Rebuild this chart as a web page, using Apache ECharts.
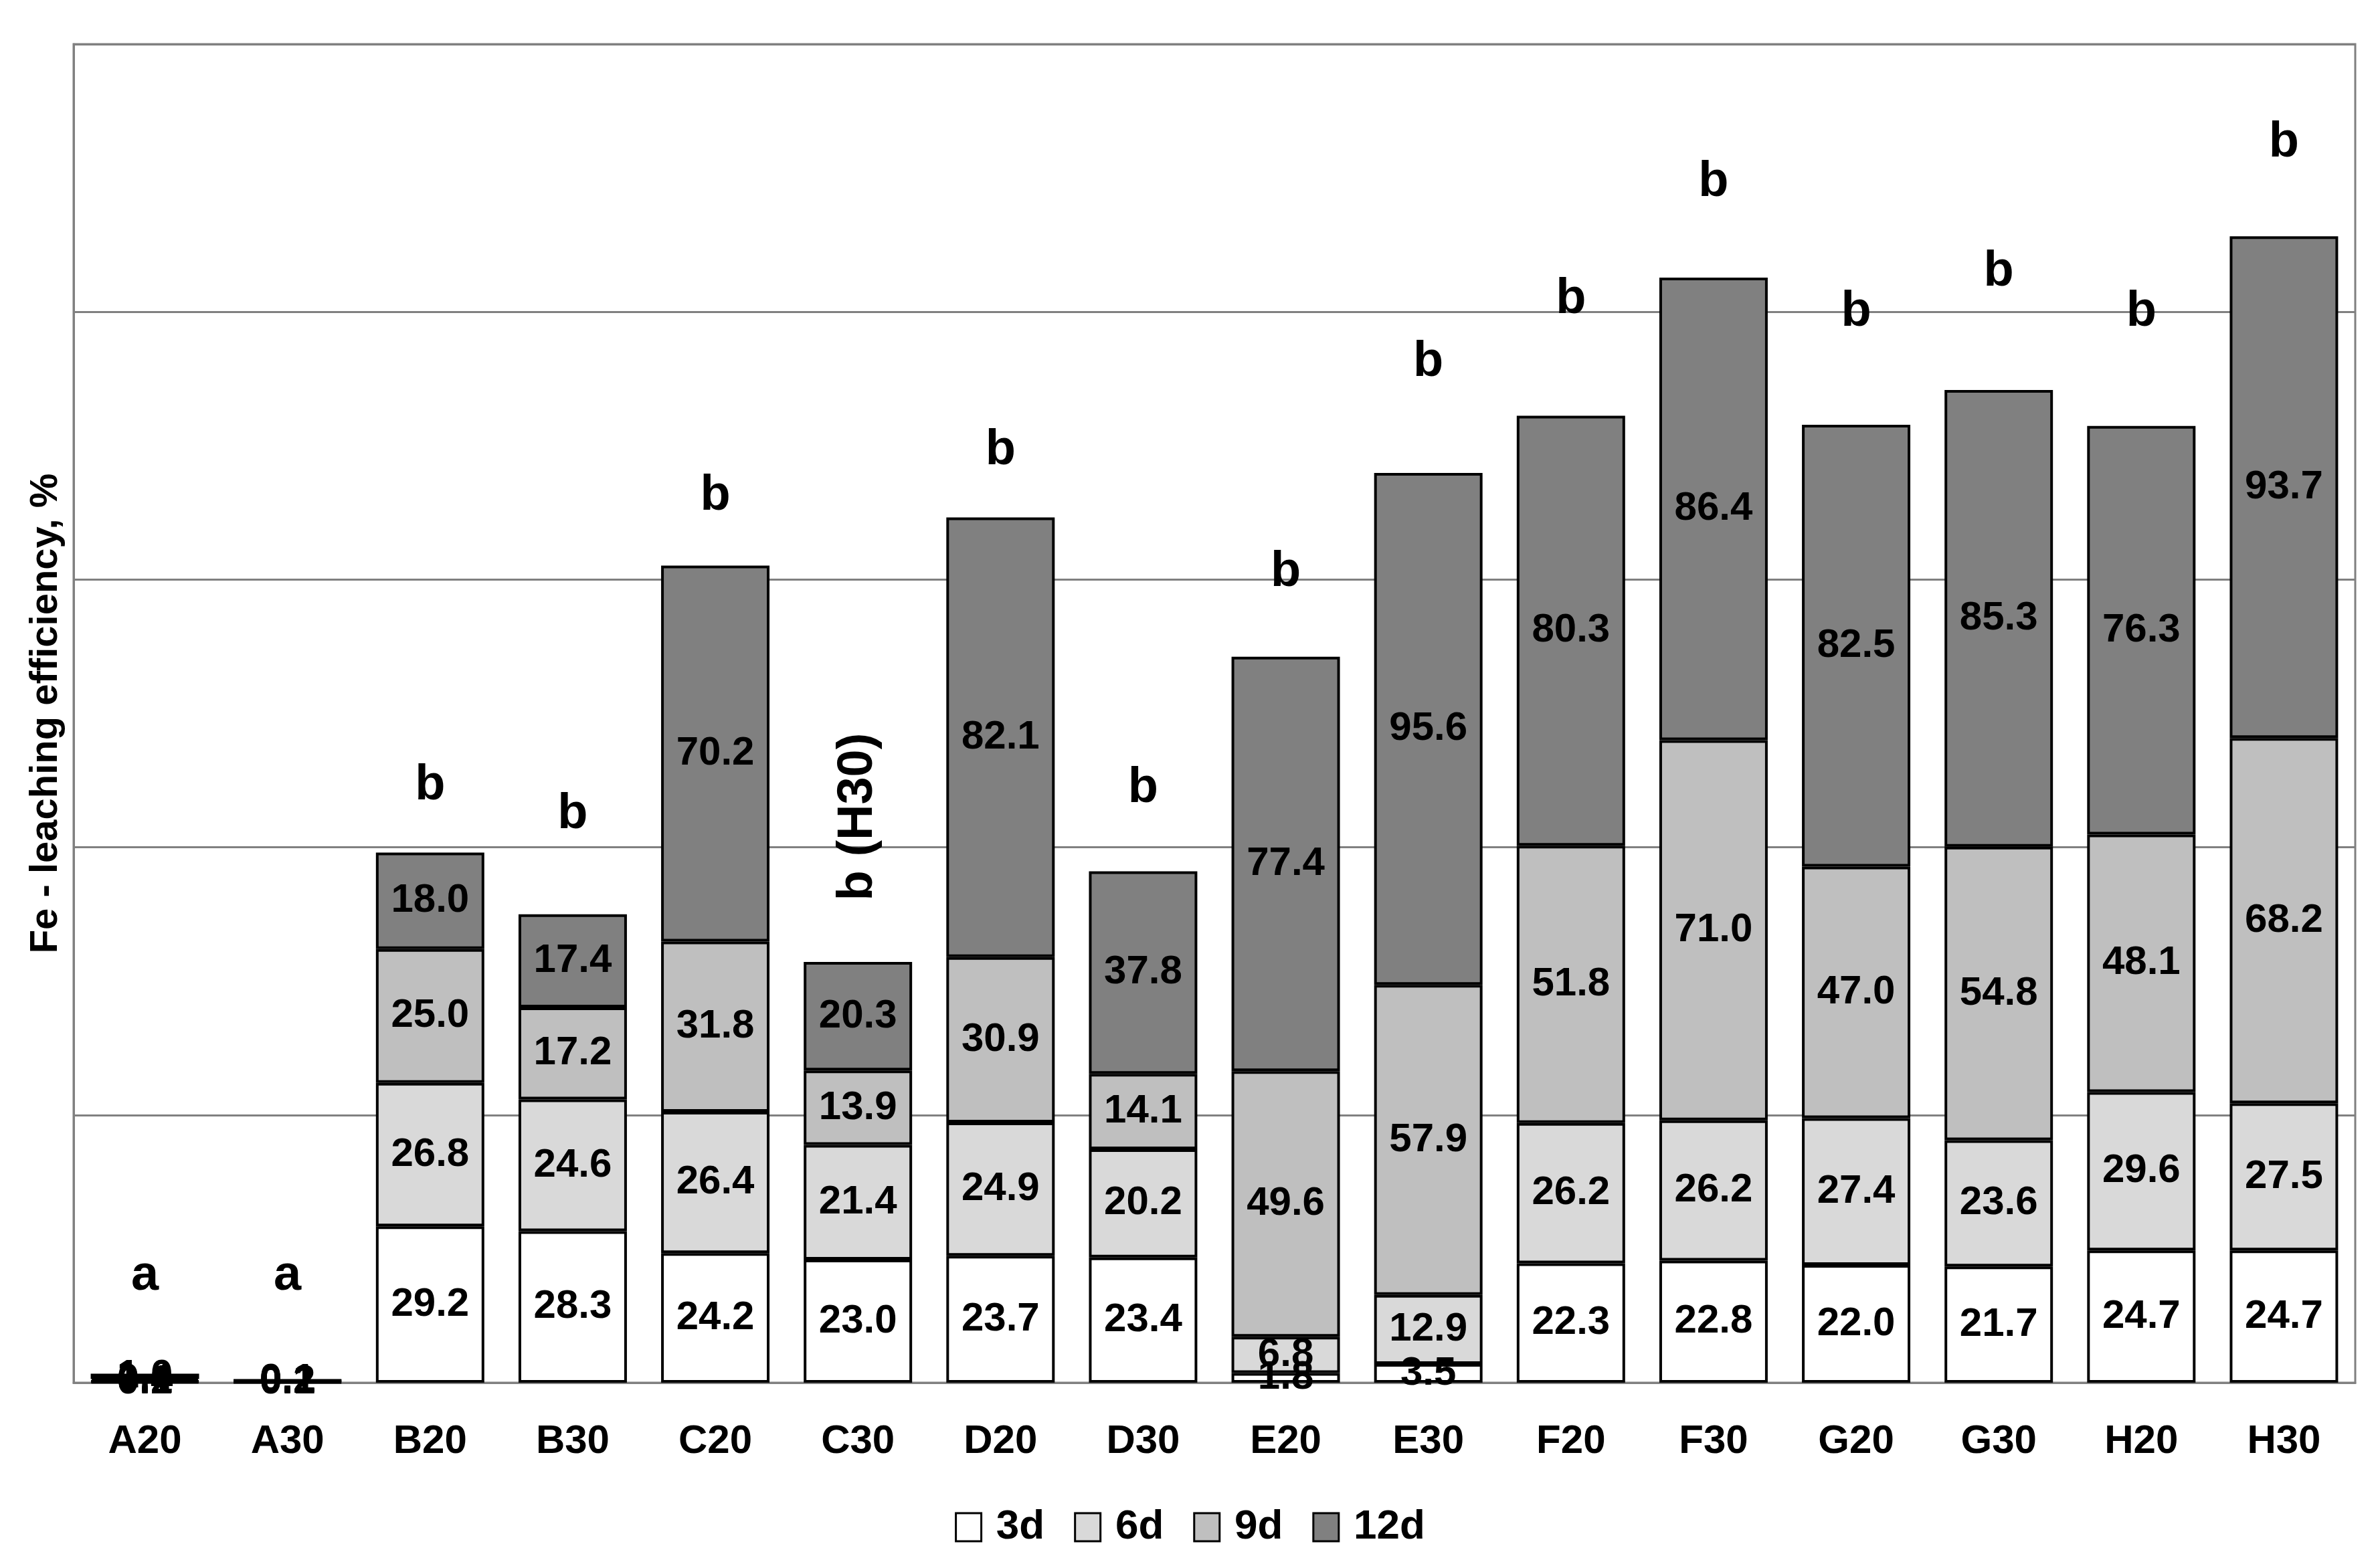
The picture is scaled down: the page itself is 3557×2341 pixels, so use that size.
<!DOCTYPE html>
<html>
<head>
<meta charset="utf-8">
<script src="https://cdn.jsdelivr.net/npm/echarts@6/dist/echarts.min.js"></script>
<style>
html,body{margin:0;padding:0;background:#fff;}
#chart{width:3557px;height:2341px;}
</style>
</head>
<body>
<div id="chart"></div>
<script>
const categories = ['A20','A30','B20','B30','C20','C30','D20','D30','E20','E30','F20','F30','G20','G30','H20','H30'];
const d3  = [0.2, 0.1, 29.2, 28.3, 24.2, 23.0, 23.7, 23.4, 1.8, 3.5, 22.3, 22.8, 22.0, 21.7, 24.7, 24.7];
const d6  = [0.1, 0.2, 26.8, 24.6, 26.4, 21.4, 24.9, 20.2, 6.8, 12.9, 26.2, 26.2, 27.4, 23.6, 29.6, 27.5];
const d9  = [0.4, 0.1, 25.0, 17.2, 31.8, 13.9, 30.9, 14.1, 49.6, 57.9, 51.8, 71.0, 47.0, 54.8, 48.1, 68.2];
const d12 = [1.0, 0.1, 18.0, 17.4, 70.2, 20.3, 82.1, 37.8, 77.4, 95.6, 80.3, 86.4, 82.5, 85.3, 76.3, 93.7];
const seriesNames = ['3d','6d','9d','12d'];
const seriesColors = ['#ffffff','#d9d9d9','#bfbfbf','#808080'];
// significance letters and their heights (top of error range, data units)
const letters = ['a','a','b','b','b','b (H30)','b','b','b','b','b','b','b','b','b','b'];
const letterY = [19.9, 19.9, 111.5, 106.1, 165.6, 105.7, 174.1, 111.0, 151.4, 190.6, 202.3, 224.2, 200.0, 207.4, 200.0, 231.5];
const yTicks = {min: 0, max: 250, interval: 50};

const FONT = "'Liberation Sans', Arial, sans-serif";
const chart = echarts.init(document.getElementById('chart'), null, {renderer: 'canvas'});

const values = [d3, d6, d9, d12];
const barSeries = values.map((arr, i) => ({
  name: seriesNames[i],
  type: 'bar',
  stack: 'total',
  barCategoryGap: '24%',
  data: arr,
  itemStyle: {color: seriesColors[i], borderColor: '#000', borderWidth: 4},
  label: {
    show: true,
    position: 'inside',
    color: '#000',
    fontFamily: FONT,
    fontWeight: 'bold',
    fontSize: 60,
    formatter: p => p.value.toFixed(1)
  },
  emphasis: {disabled: true}
}));

const letterSeries = {
  name: 'letters',
  type: 'custom',
  silent: true,
  z: 5,
  data: letters.map((t, i) => [i, letterY[i]]),
  renderItem: (params, api) => {
    const i = api.value(0);
    const pt = api.coord([i, api.value(1)]);
    const t = letters[i];
    return {
      type: 'text',
      x: pt[0],
      y: pt[1],
      rotation: t.length > 1 ? Math.PI / 2 : 0,
      style: {
        text: t,
        fill: '#000',
        font: 'bold 74px ' + FONT,
        align: 'center',
        verticalAlign: 'middle'
      }
    };
  }
};

chart.setOption({
  backgroundColor: '#fff',
  animation: false,
  grid: {left: 110, right: 37, top: 66, bottom: 274, show: true, borderColor: '#808080', borderWidth: 3, backgroundColor: 'transparent', containLabel: false},
  legend: {
    data: seriesNames,
    bottom: 22,
    left: 'center',
    itemWidth: 38,
    itemHeight: 42,
    itemGap: 44,
    icon: 'rect',
    itemStyle: {borderColor: '#000', borderWidth: 3},
    formatter: n => ' ' + n,
    textStyle: {color: '#000', fontFamily: FONT, fontWeight: 'bold', fontSize: 62}
  },
  xAxis: {
    type: 'category',
    data: categories,
    axisTick: {show: false},
    axisLine: {lineStyle: {color: '#808080', width: 3}},
    axisLabel: {color: '#000', fontFamily: FONT, fontWeight: 'bold', fontSize: 60, margin: 58, interval: 0}
  },
  yAxis: {
    type: 'value',
    min: yTicks.min,
    max: yTicks.max,
    interval: yTicks.interval,
    name: 'Fe - leaching efficiency, %',
    nameLocation: 'middle',
    nameRotate: 90,
    nameGap: 12,
    nameTextStyle: {color: '#000', fontFamily: FONT, fontWeight: 'bold', fontSize: 58},
    axisLabel: {show: false},
    axisTick: {show: false},
    axisLine: {show: true, lineStyle: {color: '#808080', width: 3}},
    splitLine: {lineStyle: {color: '#808080', width: 3}}
  },
  series: [...barSeries, letterSeries]
});
</script>
</body>
</html>
